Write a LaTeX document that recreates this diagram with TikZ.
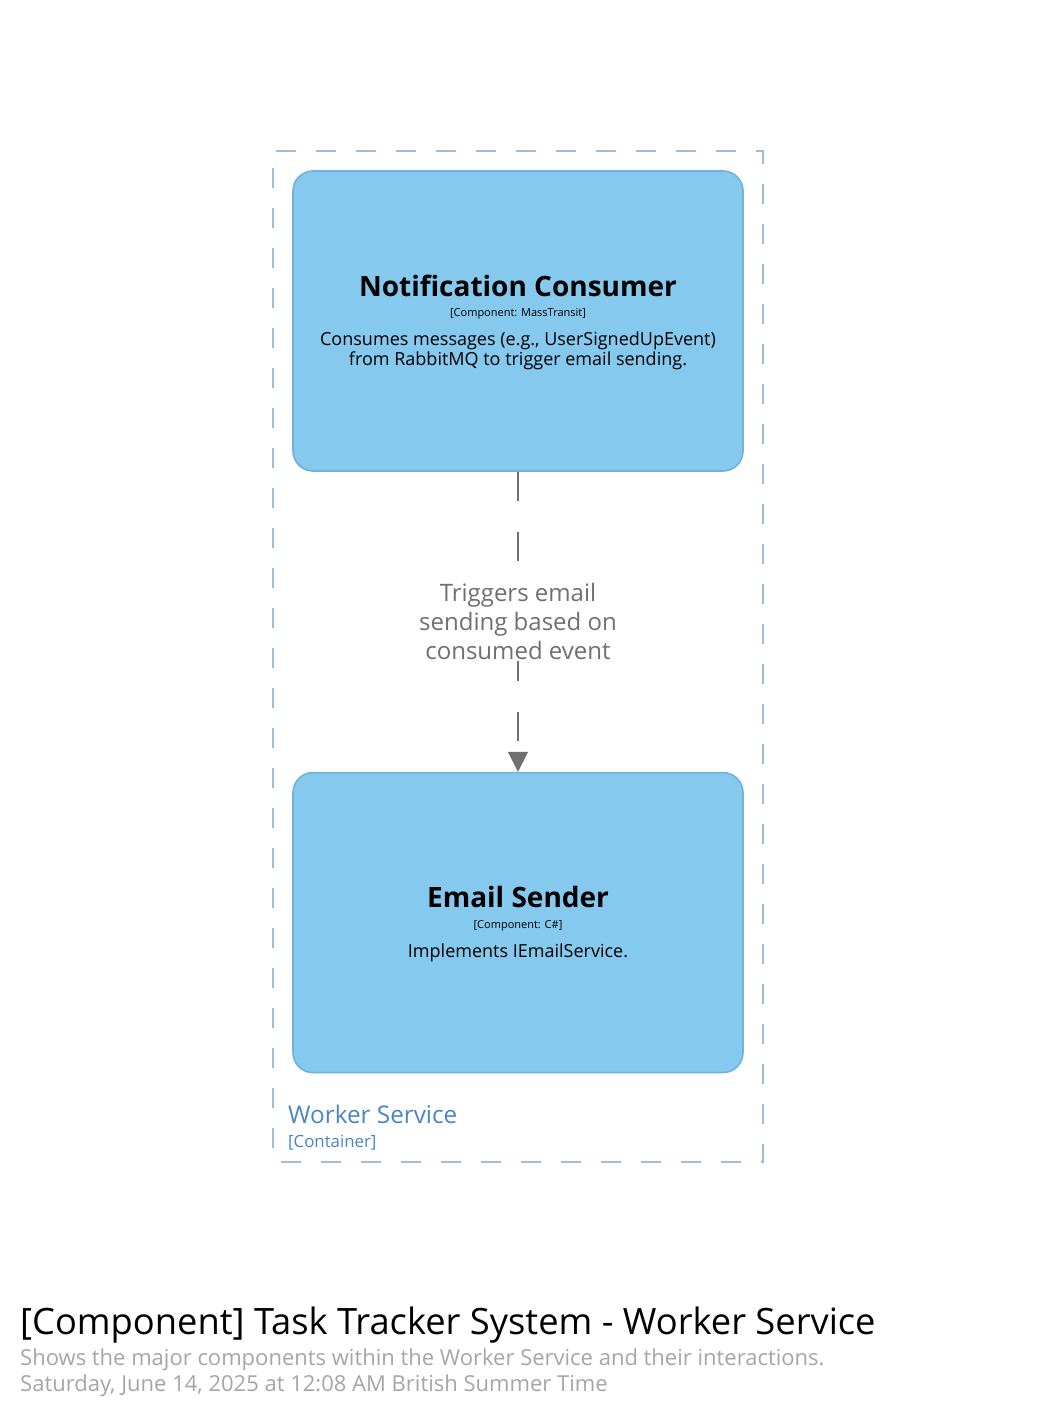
\documentclass[tikz,border=0pt]{standalone}
\usepackage{fontspec}
\setmainfont{Open Sans}
\usetikzlibrary{arrows.meta,positioning}
\definecolor{CompFill}{HTML}{85C9EE}
\definecolor{CompEdge}{HTML}{72B2DA}
\definecolor{Bound}{HTML}{9DBCE0}
\definecolor{BoundText}{HTML}{4A86C6}
\definecolor{RelGray}{HTML}{707070}
\definecolor{SubGray}{HTML}{A6A6A6}
\newcommand{\fsz}[2]{\fontsize{#1}{#2}\selectfont}
\tikzset{
  component/.style={
    rounded corners=20pt, draw=CompEdge, line width=1.6pt, fill=CompFill,
    minimum width=450pt, minimum height=300pt, inner sep=0pt
  },
  compname/.style={anchor=base, inner sep=0pt, font=\fsz{28}{32}\bfseries},
  comptype/.style={anchor=base, inner sep=0pt, font=\fsz{11}{14}},
  compdesc/.style={anchor=base, inner sep=0pt, align=center, font=\fsz{18}{20.5}},
  boundary/.style={
    draw=Bound, line width=1.6pt, dash pattern=on 20pt off 20pt, dash phase=-8pt,
    minimum width=490pt, minimum height=1011pt, inner sep=0pt
  },
  rel/.style={-{Triangle[width=20pt,length=20pt]}, line width=1.6pt, draw=RelGray,
    dash pattern=on 29pt off 31pt},
  rellabel/.style={fill=white, text=RelGray, align=center, font=\fsz{24}{29},
    inner sep=1pt}
}
\begin{document}
\begin{tikzpicture}[x=1pt,y=-1pt]
  \useasboundingbox[fill=white] (0,0) rectangle (1037,1411);
  % container boundary
  \node[boundary] (worker) at (518,656.5) {};
  \node[anchor=base west, inner sep=0pt, text=BoundText, font=\fsz{24.3}{28}] (wsname) at (288,1123) {Worker Service};
  \node[anchor=base west, inner sep=0pt, text=BoundText, font=\fsz{16.8}{20}] (wstype) at (288,1147) {[Container]};
  % components
  \node[component] (consumer) at (518,321) {};
  \node[compname] (consumer-name) at ([yshift=24.5pt]consumer.center) {Notification Consumer};
  \node[comptype] (consumer-type) at ([yshift=5pt]consumer.center) {[Component: MassTransit]};
  \node[compdesc] (consumer-desc) at ([yshift=-44.5pt]consumer.center) {Consumes messages (e.g., UserSignedUpEvent)\\from RabbitMQ to trigger email sending.};
  \node[component, below=300pt of consumer] (sender) {};
  \node[compname] (sender-name) at ([yshift=15pt]sender.center) {Email Sender};
  \node[comptype] (sender-type) at ([yshift=-6pt]sender.center) {[Component: C\#]};
  \node[compdesc] (sender-desc) at ([yshift=-35pt]sender.center) {Implements IEmailService.};
  \draw[rel] (consumer) -- node[rellabel] (trig) {Triggers email\\sending based on\\consumed event} (sender);
  % title block
  \node[anchor=base west, inner sep=0pt, font=\fsz{36.3}{40}] (title) at (20,1334) {[Component] Task Tracker System - Worker Service};
  \node[anchor=base west, inner sep=0pt, text=SubGray, font=\fsz{22}{26}] (desc) at (20,1365) {Shows the major components within the Worker Service and their interactions.};
  \node[anchor=base west, inner sep=0pt, text=SubGray, font=\fsz{22}{26}] (stamp) at (20,1391) {Saturday, June 14, 2025 at 12:08 AM British Summer Time};
\end{tikzpicture}
\end{document}
